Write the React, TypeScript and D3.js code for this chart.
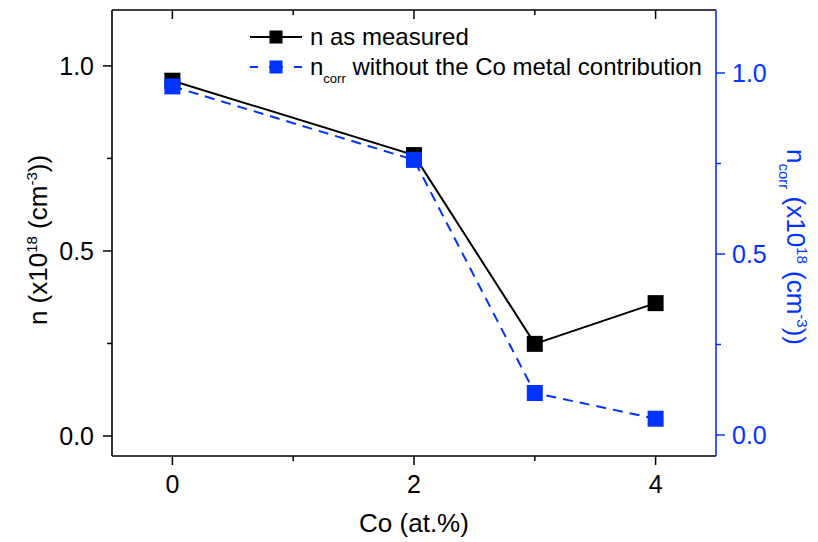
import React from "react";
import * as d3 from "d3";

// Co content (at.%)
const coContent = [0, 2, 3, 4];
// carrier density as measured (x10^18 cm^-3)
const nMeasured = [0.96, 0.759, 0.249, 0.359];
// corrected carrier density, without Co metal contribution
const nCorr = [0.963, 0.76, 0.116, 0.045];

const xMajorTicks = [0, 2, 4];
const xMinorTicks = [1, 3];
const yMajorTicks = [0, 0.5, 1.0];
const yMinorTicks = [0.25, 0.75];

const BLUE = "#0033ff";
const FONT = "'Liberation Sans', Arial, sans-serif";

export default function App() {
  const left = 112;
  const right = 716;
  const top = 10;
  const bottom = 456;

  const x = d3.scaleLinear().domain([-0.5, 4.5]).range([left, right]);
  const yL = d3.scaleLinear().domain([-0.054, 1.151]).range([bottom, top]);
  const yR = d3.scaleLinear().domain([-0.058, 1.174]).range([bottom, top]);

  const lineL = d3
    .line<number>()
    .x((d, i) => x(coContent[i]))
    .y((d) => yL(d));
  const lineR = d3
    .line<number>()
    .x((d, i) => x(coContent[i]))
    .y((d) => yR(d));

  const sq = 16;
  const legSq = 13;

  return (
    <svg
      width={818}
      height={542}
      style={{ position: "absolute", left: 0, top: 0, background: "#fff" }}
      fontFamily={FONT}
    >
      <rect width={818} height={542} fill="#fff" />

      {/* frame */}
      <line x1={left} x2={right} y1={top} y2={top} stroke="#000" strokeWidth={1.6} />
      <line x1={left} x2={right} y1={bottom} y2={bottom} stroke="#000" strokeWidth={1.6} />
      <line x1={left} x2={left} y1={top} y2={bottom} stroke="#000" strokeWidth={1.6} />
      <line x1={right} x2={right} y1={top} y2={bottom} stroke={BLUE} strokeWidth={1.6} />

      {/* bottom axis ticks */}
      {xMajorTicks.map((t) => (
        <g key={"xb" + t}>
          <line x1={x(t)} x2={x(t)} y1={bottom} y2={bottom + 9} stroke="#000" strokeWidth={1.5} />
          <line x1={x(t)} x2={x(t)} y1={top} y2={top + 9} stroke="#000" strokeWidth={1.5} />
          <text x={x(t)} y={493} fontSize={25} textAnchor="middle">
            {t}
          </text>
        </g>
      ))}
      {xMinorTicks.map((t) => (
        <g key={"xm" + t}>
          <line x1={x(t)} x2={x(t)} y1={bottom} y2={bottom + 5} stroke="#000" strokeWidth={1.5} />
          <line x1={x(t)} x2={x(t)} y1={top} y2={top + 5} stroke="#000" strokeWidth={1.5} />
        </g>
      ))}
      <text x={x(2)} y={532} fontSize={26} textAnchor="middle">
        Co (at.%)
      </text>

      {/* left axis */}
      {yMajorTicks.map((t) => (
        <g key={"yl" + t}>
          <line x1={left - 9} x2={left} y1={yL(t)} y2={yL(t)} stroke="#000" strokeWidth={1.5} />
          <text x={left - 18} y={yL(t) + 9} fontSize={25} textAnchor="end">
            {t.toFixed(1)}
          </text>
        </g>
      ))}
      {yMinorTicks.map((t) => (
        <line key={"ylm" + t} x1={left - 5} x2={left} y1={yL(t)} y2={yL(t)} stroke="#000" strokeWidth={1.5} />
      ))}
      <text transform="translate(47,240) rotate(-90)" fontSize={26} textAnchor="middle">
        n (x10
        <tspan dy={-10} fontSize={15}>18</tspan>
        <tspan dy={10}> (cm</tspan>
        <tspan dy={-10} fontSize={15}>-3</tspan>
        <tspan dy={10}>))</tspan>
      </text>

      {/* right axis */}
      {yMajorTicks.map((t) => (
        <g key={"yr" + t}>
          <line x1={right} x2={right + 9} y1={yR(t)} y2={yR(t)} stroke={BLUE} strokeWidth={1.5} />
          <text x={right + 16} y={yR(t) + 9} fontSize={25} fill={BLUE}>
            {t.toFixed(1)}
          </text>
        </g>
      ))}
      {yMinorTicks.map((t) => (
        <line key={"yrm" + t} x1={right} x2={right + 5} y1={yR(t)} y2={yR(t)} stroke={BLUE} strokeWidth={1.5} />
      ))}
      <text transform="translate(787,247) rotate(90)" fontSize={26} textAnchor="middle" fill={BLUE}>
        n
        <tspan dy={8} fontSize={15}>corr</tspan>
        <tspan dy={-8}> (x10</tspan>
        <tspan dy={-10} fontSize={15}>18</tspan>
        <tspan dy={10}> (cm</tspan>
        <tspan dy={-10} fontSize={15}>-3</tspan>
        <tspan dy={10}>))</tspan>
      </text>

      {/* series: measured */}
      <path d={lineL(nMeasured) || ""} fill="none" stroke="#000" strokeWidth={2} />
      {nMeasured.map((v, i) => (
        <rect key={"m" + i} x={x(coContent[i]) - sq / 2} y={yL(v) - sq / 2} width={sq} height={sq} fill="#000" />
      ))}

      {/* series: corrected */}
      <path d={lineR(nCorr) || ""} fill="none" stroke={BLUE} strokeWidth={2} strokeDasharray="10,7" />
      {nCorr.map((v, i) => (
        <rect key={"c" + i} x={x(coContent[i]) - sq / 2} y={yR(v) - sq / 2} width={sq} height={sq} fill={BLUE} />
      ))}

      {/* legend */}
      <g>
        <line x1={250} x2={302} y1={37} y2={37} stroke="#000" strokeWidth={2} />
        <rect x={276 - legSq / 2} y={37 - legSq / 2} width={legSq} height={legSq} fill="#000" />
        <text x={310} y={45} fontSize={24}>
          n as measured
        </text>
        <line x1={250} x2={302} y1={67} y2={67} stroke={BLUE} strokeWidth={2} strokeDasharray="8,11,14,11,8" />
        <rect x={276 - legSq / 2} y={67 - legSq / 2} width={legSq} height={legSq} fill={BLUE} />
        <text x={310} y={75} fontSize={24}>
          n
          <tspan dy={8} fontSize={13}>corr</tspan>
          <tspan dy={-8}> without the Co metal contribution</tspan>
        </text>
      </g>
    </svg>
  );
}
